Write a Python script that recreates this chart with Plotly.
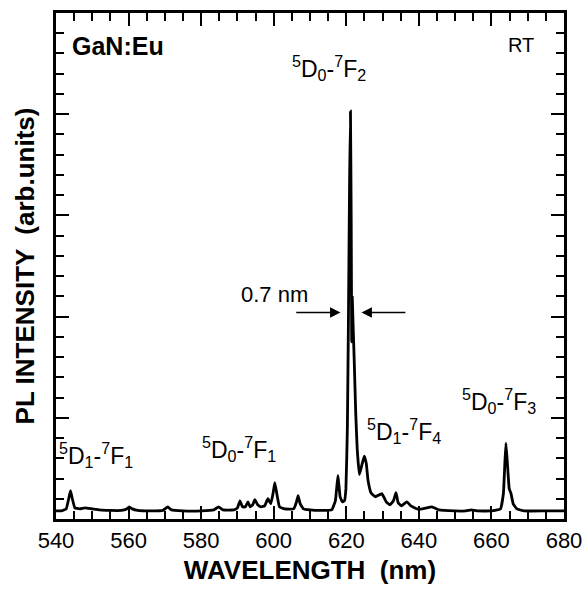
import plotly.graph_objects as go

# Spectrum points (wavelength nm, intensity arb. units)
wavelength = [540.0, 541.5, 542.8, 543.5, 544.0, 544.5, 545.2, 546.5, 548.0, 550.0,
              552.0, 555.0, 558.0, 559.5, 560.2, 561.0, 562.5, 566.0, 569.5, 570.8,
              571.8, 575.0, 580.0, 583.5, 584.8, 586.0, 589.0, 590.0, 590.7, 591.4,
              592.2, 592.9, 593.5, 594.2, 594.8, 595.6, 596.5, 597.5, 598.4, 599.2,
              599.8, 600.3, 600.9, 601.6, 603.0, 605.5, 606.2, 606.7, 607.3, 608.2,
              610.0, 613.0, 616.0, 617.0, 617.7, 618.3, 618.9, 619.5, 619.9, 620.3,
              620.6, 620.9, 621.15, 621.35, 621.5, 621.65, 621.85, 622.2, 622.6, 623.0,
              623.6, 624.2, 624.95, 625.5, 626.0, 626.8, 628.0, 629.8, 631.0, 632.0,
              633.0, 633.7, 634.3, 635.2, 636.7, 637.8, 639.5, 641.0, 643.6, 645.5,
              650.0, 653.0, 654.5, 656.0, 660.0, 662.5, 663.3, 663.7, 664.0, 664.4,
              664.9, 665.4, 666.0, 667.0, 669.0, 675.0, 680.0]
intensity = [0.08, 0.08, 0.10, 0.20, 0.28, 0.20, 0.11, 0.10, 0.11, 0.10,
             0.09, 0.085, 0.085, 0.10, 0.12, 0.10, 0.085, 0.08, 0.085, 0.12,
             0.09, 0.08, 0.08, 0.09, 0.12, 0.09, 0.09, 0.11, 0.18, 0.12,
             0.12, 0.17, 0.12, 0.14, 0.19, 0.14, 0.12, 0.13, 0.20, 0.15,
             0.25, 0.36, 0.24, 0.12, 0.10, 0.10, 0.16, 0.23, 0.15, 0.10,
             0.09, 0.085, 0.09, 0.18, 0.43, 0.22, 0.17, 0.18, 0.30, 0.90,
             2.00, 3.30, 4.03, 3.00, 1.75, 2.19, 1.95, 1.55, 1.05, 0.70,
             0.44, 0.52, 0.62, 0.55, 0.38, 0.26, 0.22, 0.25, 0.17, 0.14,
             0.18, 0.26, 0.16, 0.13, 0.17, 0.13, 0.10, 0.10, 0.12, 0.09,
             0.08, 0.08, 0.09, 0.08, 0.08, 0.10, 0.25, 0.55, 0.75, 0.55,
             0.30, 0.25, 0.15, 0.10, 0.08, 0.08, 0.08]

x_ticks = [540, 560, 580, 600, 620, 640, 660, 680]

# Transition labels: (text, x, y)
label_text = ["<sup>5</sup>D<sub>0</sub>-<sup>7</sup>F<sub>2</sub>",
              "<sup>5</sup>D<sub>1</sub>-<sup>7</sup>F<sub>1</sub>",
              "<sup>5</sup>D<sub>0</sub>-<sup>7</sup>F<sub>1</sub>",
              "<sup>5</sup>D<sub>1</sub>-<sup>7</sup>F<sub>4</sub>",
              "<sup>5</sup>D<sub>0</sub>-<sup>7</sup>F<sub>3</sub>"]
label_x = [615.3, 550.9, 590.4, 635.9, 662.1]
label_y = [4.46, 0.63, 0.69, 0.87, 1.17]

FONT = "Arial, Liberation Sans, sans-serif"

fig = go.Figure()
fig.add_trace(go.Scatter(x=wavelength, y=intensity, mode="lines",
                         line=dict(color="black", width=2.8, shape="spline", smoothing=0.3),
                         showlegend=False, hoverinfo="skip"))

annotations = []
for t, xx, yy in zip(label_text, label_x, label_y):
    annotations.append(dict(x=xx, y=yy, xref="x", yref="y", text=t, showarrow=False,
                            font=dict(family=FONT, size=23, color="black")))

annotations.append(dict(x=0.027, y=0.935, xref="paper", yref="paper", text="<b>GaN:Eu</b>",
                        showarrow=False, xanchor="left", yanchor="middle",
                        font=dict(family=FONT, size=25, color="black")))
annotations.append(dict(x=0.945, y=0.937, xref="paper", yref="paper", text="RT",
                        showarrow=False, xanchor="right", yanchor="middle",
                        font=dict(family=FONT, size=20, color="black")))
annotations.append(dict(x=600.3, y=2.22, xref="x", yref="y", text="0.7 nm",
                        showarrow=False, font=dict(family=FONT, size=22, color="black")))
# FWHM arrows
annotations.append(dict(x=618.4, y=2.04, ax=605.8, ay=2.04, xref="x", yref="y",
                        axref="x", ayref="y", text="", showarrow=True,
                        arrowhead=2, arrowsize=1.3, arrowwidth=1.6, arrowcolor="black"))
annotations.append(dict(x=624.2, y=2.04, ax=636.7, ay=2.04, xref="x", yref="y",
                        axref="x", ayref="y", text="", showarrow=True,
                        arrowhead=2, arrowsize=1.3, arrowwidth=1.6, arrowcolor="black"))

axis_common = dict(showline=True, linecolor="black", linewidth=2.5, mirror="allticks",
                   ticks="inside", tickcolor="black", tickwidth=2, ticklen=13,
                   showgrid=False, zeroline=False, automargin=False)

fig.update_layout(
    width=585, height=589,
    margin=dict(l=56, r=21, t=13, b=70),
    paper_bgcolor="white", plot_bgcolor="white",
    font=dict(family=FONT, color="black"),
    annotations=annotations,
    xaxis=dict(range=[540, 680], tickvals=x_ticks, ticktext=[str(v) for v in x_ticks],
               tickfont=dict(family=FONT, size=22, color="black"),
               minor=dict(dtick=5, tick0=540, ticks="inside", ticklen=8, tickwidth=2,
                          tickcolor="black", showgrid=False),
               title=dict(text="<b>WAVELENGTH  (nm)</b>", standoff=9,
                          font=dict(family=FONT, size=26, color="black")),
               **axis_common),
    yaxis=dict(range=[0, 5], dtick=1, tick0=0, showticklabels=False,
               minor=dict(dtick=0.2, tick0=0, ticks="inside", ticklen=8, tickwidth=2,
                          tickcolor="black", showgrid=False),
               title=dict(text="<b>PL INTENSITY  (arb.units)</b>", standoff=12,
                          font=dict(family=FONT, size=26, color="black")),
               **axis_common),
)

fig.write_html("out.html")
